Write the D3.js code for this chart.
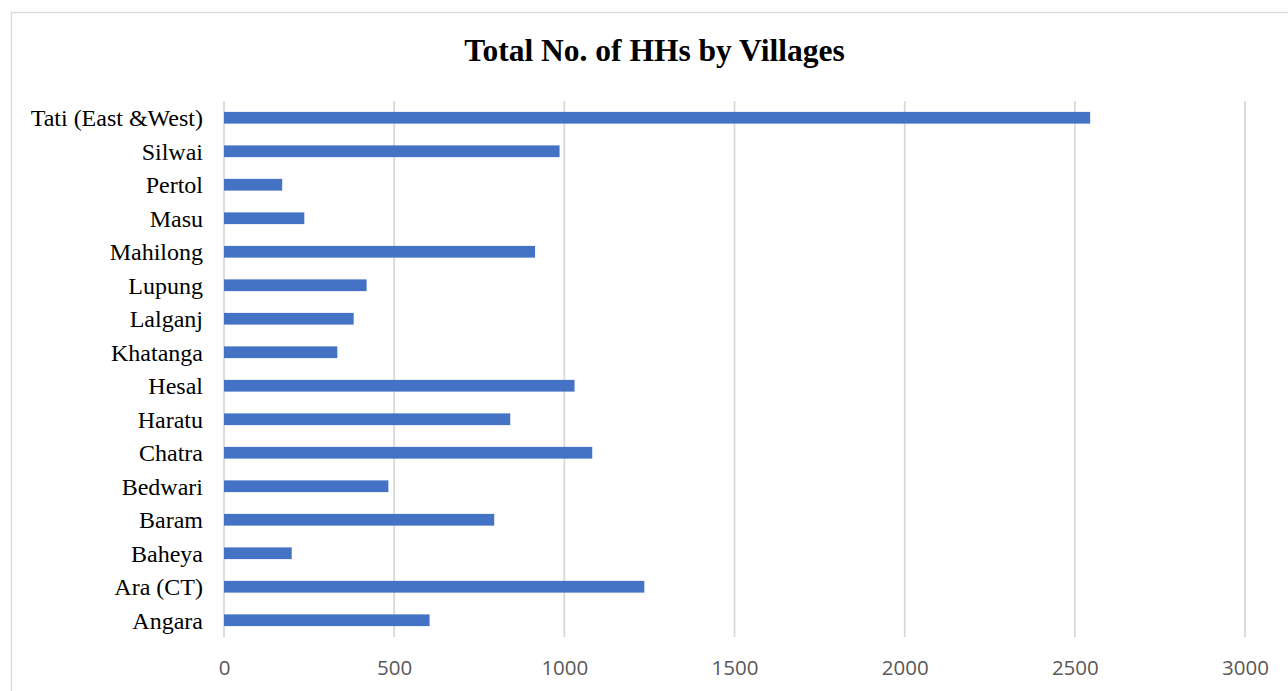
<!DOCTYPE html>
<html>
<head>
<meta charset="utf-8">
<script src="https://cdn.jsdelivr.net/npm/d3@7"></script>
<style>
  html, body { margin: 0; padding: 0; background: #fff; }
  svg { display: block; }
</style>
</head>
<body>
<svg id="chart" width="1288" height="691"></svg>
<script>
// Villages, listed top to bottom as shown
const villages = [
  "Tati (East &West)", "Silwai", "Pertol", "Masu", "Mahilong", "Lupung",
  "Lalganj", "Khatanga", "Hesal", "Haratu", "Chatra", "Bedwari",
  "Baram", "Baheya", "Ara (CT)", "Angara"
];
// Total number of households per village
const households = [
  2545, 986, 171, 236, 914, 419,
  381, 333, 1030, 841, 1082, 483,
  794, 199, 1235, 604
];
const xTicks = [0, 500, 1000, 1500, 2000, 2500, 3000];
const chartTitle = "Total No. of HHs by Villages";

const svg = d3.select("#chart");
const plot = { left: 224, right: 1245, top: 101, bottom: 637 };

// Outer chart frame
svg.append("rect")
  .attr("x", 11.5).attr("y", 12.5)
  .attr("width", 1287).attr("height", 700)
  .attr("fill", "#fff").attr("stroke", "#d9d9d9").attr("stroke-width", 1.3);

const x = d3.scaleLinear().domain([0, 3000]).range([plot.left, plot.right]);
const y = d3.scaleBand().domain(villages).range([plot.top, plot.bottom])
  .paddingInner(0.65).paddingOuter(0.325);

// Vertical gridlines
svg.append("g").selectAll("line").data(xTicks).join("line")
  .attr("x1", d => x(d)).attr("x2", d => x(d))
  .attr("y1", plot.top).attr("y2", plot.bottom)
  .attr("stroke", "#d6d6d6").attr("stroke-width", 1.7);

// Bars
svg.append("g").selectAll("rect").data(villages).join("rect")
  .attr("x", x(0))
  .attr("y", d => y(d))
  .attr("width", (d, i) => x(households[i]) - x(0))
  .attr("height", y.bandwidth())
  .attr("fill", "#4472c4");

// X axis labels
const xAxis = d3.axisBottom(x).tickValues(xTicks).tickSize(0).tickPadding(0).tickFormat(d3.format("d"));
const gx = svg.append("g").attr("transform", `translate(0, ${plot.bottom})`).call(xAxis);
gx.select(".domain").remove();
gx.selectAll("text")
  .attr("y", 37.5)
  .attr("dy", 0)
  .style("font-family", "'Open Sans', sans-serif")
  .style("font-size", "20.5px")
  .style("fill", "#595959");

// Y axis labels
const yAxis = d3.axisLeft(y).tickSize(0).tickPadding(0);
const gy = svg.append("g").attr("transform", `translate(${plot.left - 21}, 0)`).call(yAxis);
gy.select(".domain").remove();
gy.selectAll("text")
  .attr("dy", "0.36em")
  .style("font-family", "'Liberation Serif', 'Times New Roman', serif")
  .style("font-size", "24px")
  .style("fill", "#000");

// Title
svg.append("text")
  .attr("x", 654.5).attr("y", 60.5)
  .attr("text-anchor", "middle")
  .style("font-family", "'Liberation Serif', 'Times New Roman', serif")
  .style("font-weight", "bold")
  .style("font-size", "31.5px")
  .style("fill", "#000")
  .text(chartTitle);
</script>
</body>
</html>
